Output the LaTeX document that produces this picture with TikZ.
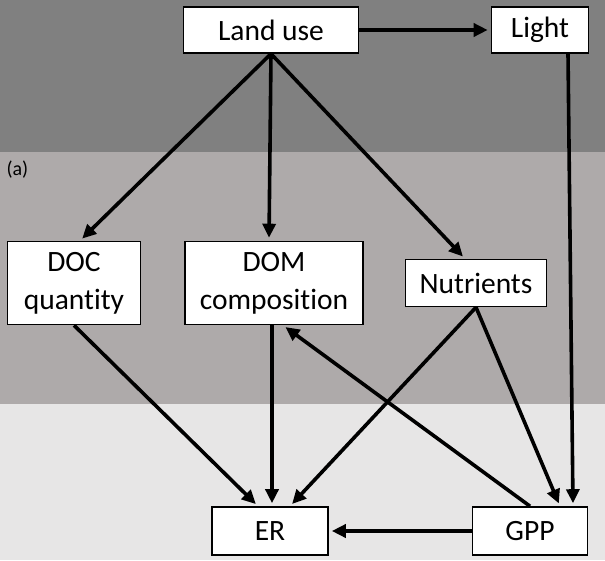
\documentclass[tikz,border=0pt]{standalone}
\usepackage{fontspec}
\setmainfont[Ligatures={NoCommon}]{Carlito}
\usetikzlibrary{arrows.meta}
\definecolor{bandA}{HTML}{808080}
\definecolor{bandB}{HTML}{AEAAAA}
\definecolor{bandC}{HTML}{E7E6E6}
\begin{document}
\begin{tikzpicture}[x=1pt,y=-1pt,
  box/.style={draw=black,line width=1.6pt,fill=white,inner sep=0pt,align=center,font=\fontsize{29.5}{38}\selectfont},
  conn/.style={line width=3.6pt,-{Triangle[length=14pt,width=13pt]},shorten >=3pt}]
\useasboundingbox (0,0) rectangle (605,560);
\fill[bandA] (0,0) rectangle (605,152);
\fill[bandB] (0,152) rectangle (605,404);
\fill[bandC] (0,404) rectangle (605,560);
\node[anchor=west,font=\fontsize{20}{24}\selectfont] (lbl) at (3,170) {(a)};
\node[box,minimum width=175pt,minimum height=46pt] (land) at (271,30) {Land use};
\node[box,minimum width=97pt,minimum height=46pt] (light) at (540,30) {Light};
\node[box,minimum width=133pt,minimum height=83pt] (doc) at (74,283) {DOC\\quantity};
\node[box,minimum width=178pt,minimum height=83pt] (dom) at (274,283) {DOM\\composition};
\node[box,minimum width=141pt,minimum height=47pt] (nut) at (476,283) {Nutrients};
\node[box,minimum width=116pt,minimum height=48pt] (er) at (270,531) {ER};
\node[box,minimum width=115pt,minimum height=48pt] (gpp) at (530,531) {GPP};
\draw[conn] (land.east) -- (light.west);
\draw[conn] (land.south) -- (doc.north -| 80,0);
\draw[conn] (land.south) -- (dom.north -| 269,0) ;
\draw[conn] (land.south) -- ([xshift=-11pt]nut.north);
\draw[conn] (light.south -| 568,0) -- (gpp.north -| 573,0);
\draw[conn] (doc.south) -- ([xshift=-12pt]er.north);
\draw[conn] (dom.south -| 272,0) -- (er.north -| 272,0);
\draw[conn] (nut.south) -- ([xshift=20pt]er.north);
\draw[conn] (nut.south) -- ([xshift=30pt]gpp.north);
\draw[conn] (gpp.north) -- ([xshift=9pt]dom.south);
\draw[conn] (gpp.west) -- (er.east);
\end{tikzpicture}
\end{document}
